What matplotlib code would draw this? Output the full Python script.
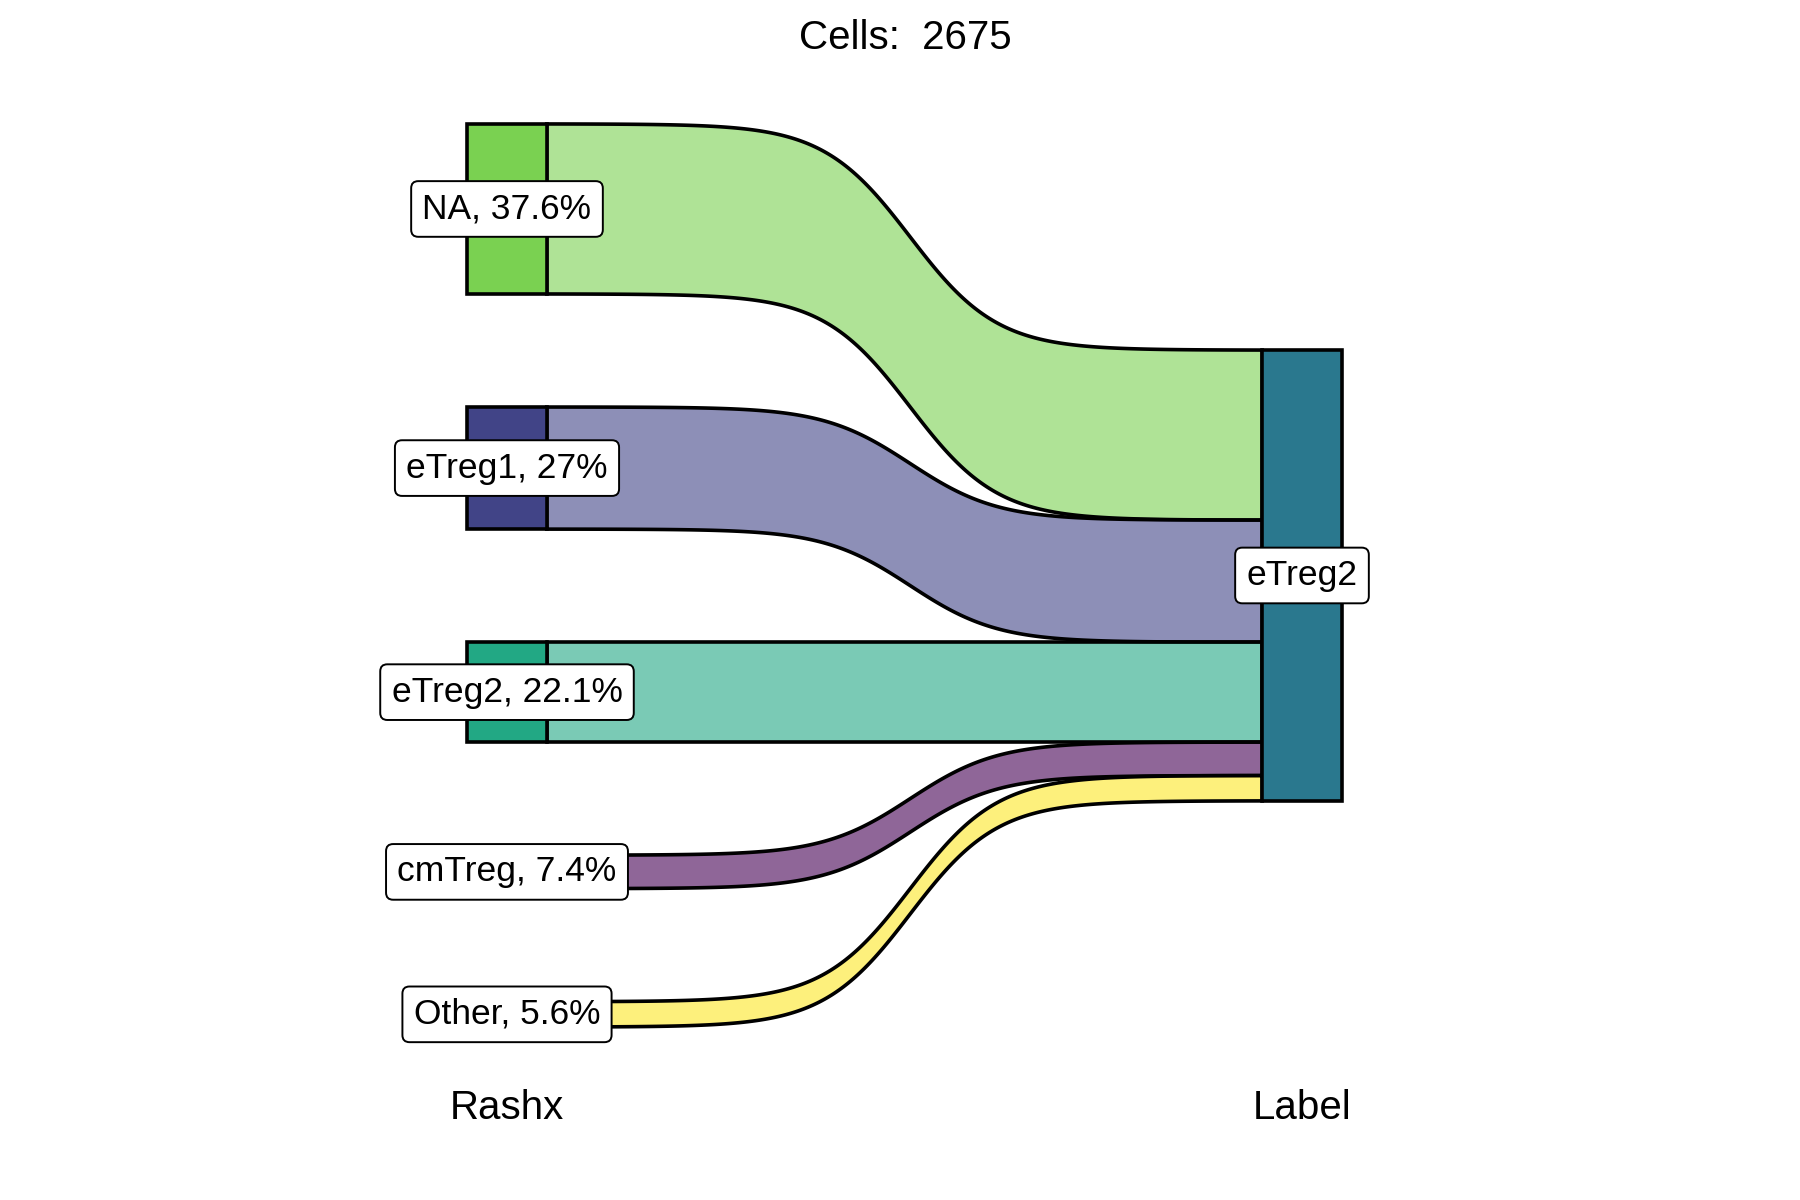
import numpy as np
import matplotlib.pyplot as plt
from matplotlib.patches import Rectangle
from matplotlib.colors import to_rgb

plt.rcParams['font.family'] = ['Liberation Sans', 'DejaVu Sans']

# data
total_cells = 2675
left_names = ["NA", "eTreg1", "eTreg2", "cmTreg", "Other"]
left_pct = [37.6, 27, 22.1, 7.4, 5.6]
left_colors = ["#7AD151", "#414487", "#22A884", "#440154", "#FDE725"]
right_name = "eTreg2"
right_color = "#2A788E"
axis_names = ["Rashx", "Label"]

gap = 25.0     # space between strata on the left axis
w = 0.1        # stratum width
mid, tau = 0.508, 0.061   # S-bend of the flows

fig = plt.figure(figsize=(18, 12), dpi=100)
ax = fig.add_axes([0, 0, 1, 1])
ax.set_xlim(1 - 507 / 795, 1 + 1293 / 795)
ax.set_ylim(-173 / 4.522, 1027 / 4.522)
ax.axis('off')

vals = np.array(left_pct, dtype=float)
n = len(vals)
top_total = vals.sum() + gap * (n - 1)
center = top_total / 2

# left strata (top -> bottom)
l_top = top_total - (np.concatenate([[0], np.cumsum(vals)[:-1]]) + gap * np.arange(n))
l_bot = l_top - vals
# right stratum, split by flow
r_top = center + vals.sum() / 2 - np.concatenate([[0], np.cumsum(vals)[:-1]])
r_bot = r_top - vals

x0 = 1 + w / 2
x1 = 2 - w / 2
s = np.linspace(0, 1, 300)
f = 1 / (1 + np.exp(-(s - mid) / tau))
f = (f - f[0]) / (f[-1] - f[0])
xs = x0 + s * (x1 - x0)

# flows
for i in range(n):
    rgb = to_rgb(left_colors[i])
    top = l_top[i] + (r_top[i] - l_top[i]) * f
    bot = l_bot[i] + (r_bot[i] - l_bot[i]) * f
    ax.fill(np.concatenate([xs, xs[::-1]]), np.concatenate([top, bot[::-1]]),
            facecolor=(*rgb, 0.6), edgecolor='black', lw=2.6,
            joinstyle='miter', zorder=1)

# strata
for i in range(n):
    ax.add_patch(Rectangle((1 - w / 2, l_bot[i]), w, vals[i],
                           facecolor=left_colors[i], edgecolor='black',
                           lw=2.6, zorder=2))
ax.add_patch(Rectangle((2 - w / 2, r_bot[-1]), w, vals.sum(),
                       facecolor=right_color, edgecolor='black', lw=2.6, zorder=2))

# labels
box = dict(boxstyle='round,pad=0.32,rounding_size=0.2', facecolor='white',
           edgecolor='black', lw=1.4)
for i in range(n):
    lab = f"{left_names[i]}, {left_pct[i]:g}%"
    ax.text(1, (l_top[i] + l_bot[i]) / 2, lab, ha='center', va='center',
            fontsize=25.5, bbox=box, zorder=3)
ax.text(2, center, right_name, ha='center', va='center', fontsize=25.5,
        bbox=box, zorder=3)

# axis names
for j, nm in enumerate(axis_names):
    ax.text(j + 1, -18, nm, ha='center', va='center', fontsize=29)

fig.text(905 / 1800, 1 - 38 / 1200, f"Cells:  {total_cells}", ha='center',
         va='center', fontsize=29)

fig.savefig("out.png", dpi=100)
